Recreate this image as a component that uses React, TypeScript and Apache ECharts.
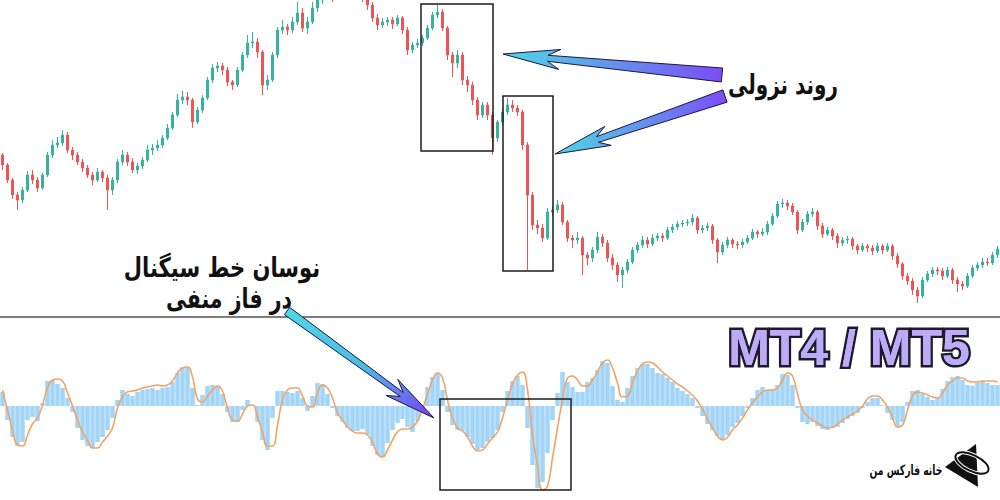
import React, { useEffect, useRef } from "react";
import * as echarts from "echarts";

// Price candles: [open, close, low, high] (arbitrary price units)
const candles: number[][] = [
  [165,155,150,167],[155,140,137,157],[140,125,121,142],[125,120,110,128],[120,130,117,133],[130,145,128,149],[145,140,136,150],[140,132,128,143],[132,145,130,147],[145,165,143,168],
  [165,175,162,180],[175,177,172,183],[177,185,174,190],[185,170,167,188],[170,165,160,173],[165,158,155,168],[158,152,148,161],[152,145,142,155],[145,140,135,148],[140,148,138,152],
  [148,142,138,150],[142,130,110,145],[130,140,125,143],[140,158,137,161],[158,165,155,170],[165,158,154,168],[158,150,147,162],[150,154,146,157],[154,160,151,163],[160,170,158,175],
  [170,172,165,176],[172,175,169,180],[175,182,172,185],[182,192,180,196],[192,205,190,208],[205,220,203,226],[220,223,216,229],[223,220,215,228],[220,198,192,222],[198,210,196,213],
  [210,222,207,225],[222,240,220,243],[240,252,237,256],[252,254,248,258],[254,250,245,257],[250,238,234,253],[238,235,230,240],[235,250,233,253],[250,265,248,268],[265,277,262,285],
  [277,278,272,288],[278,268,262,282],[268,235,225,270],[235,240,230,245],[240,265,238,268],[265,290,262,293],[290,293,286,300],[293,290,285,296],[290,298,287,303],[298,307,295,318],
  [307,292,288,312],[292,298,286,303],[298,312,296,318],[312,320,308,326],[320,325,316,330],[325,328,320,333],[328,323,318,331],[323,330,320,335],[330,332,326,336],[332,328,324,335],
  [328,325,320,331],[325,328,322,333],[328,322,318,331],[322,315,310,325],[315,302,298,318],[302,295,290,306],[295,298,292,302],[298,300,294,303],[300,296,291,303],[296,302,294,305],
  [302,290,286,304],[290,270,265,293],[270,275,267,278],[275,277,272,281],[277,282,274,285],[282,292,280,295],[292,305,290,308],[305,308,302,315],[308,292,289,311],[292,265,260,294],
  [265,257,243,268],[257,265,252,270],[265,240,235,268],[240,235,228,244],[235,220,215,238],[220,205,200,223],[205,215,202,218],[215,205,200,218],[205,182,165,208],[182,198,178,200],
  [198,208,195,212],[208,215,205,222],[215,212,208,220],[212,208,204,215],[208,175,170,210],[175,125,50,178],[125,95,90,128],[95,92,86,100],[92,82,78,96],[82,108,80,112],
  [108,110,104,114],[110,115,107,120],[115,98,95,118],[98,82,78,100],[82,80,72,85],[80,82,76,88],[82,65,45,84],[65,62,55,68],[62,70,58,73],[70,83,67,88],
  [83,77,73,86],[77,62,58,80],[62,55,50,66],[55,45,38,58],[45,50,32,53],[50,58,47,61],[58,70,56,73],[70,75,67,78],[75,80,72,84],[80,76,72,83],
  [76,82,74,86],[82,84,79,87],[84,82,78,87],[82,90,80,93],[90,93,87,96],[93,96,90,99],[96,97,93,100],[97,98,94,101],[98,102,95,106],[102,90,86,104],
  [90,92,87,95],[92,94,89,97],[94,80,76,96],[80,68,57,82],[68,75,65,78],[75,80,72,83],[80,76,72,82],[76,75,71,79],[75,78,72,81],[78,82,76,85],
  [82,88,80,91],[88,86,82,90],[86,88,84,92],[88,96,85,99],[96,104,94,107],[104,116,102,119],[116,117,112,121],[117,114,110,120],[114,108,105,117],[108,90,86,110],
  [90,98,88,101],[98,106,95,109],[106,108,103,112],[108,94,90,110],[94,86,82,97],[86,90,84,93],[90,84,80,92],[84,77,72,87],[77,80,74,83],[80,81,76,84],
  [81,74,70,83],[74,70,66,76],[70,74,68,77],[74,72,68,76],[72,69,65,75],[69,74,67,77],[74,70,66,76],[70,74,68,77],[74,64,60,76],[64,56,52,67],
  [56,44,40,58],[44,39,35,47],[39,30,25,42],[30,24,17,33],[24,40,22,43],[40,46,38,49],[46,50,43,53],[50,49,45,53],[49,44,40,52],[44,50,42,53],
  [50,40,36,52],[40,36,28,43],[36,34,30,39],[34,44,32,47],[44,52,42,55],[52,55,49,58],[55,58,52,62],[58,57,54,62],[57,65,55,68],[65,71,62,74],
];

// MACD histogram values
const macdHist: number[] = [
  14,-14,-31,-40,-36,-14,-11,-15,3,25,
  26,22,18,8,-6,-22,-34,-40,-42,-36,
  -31,-24,-12,6,16,12,10,14,16,17,
  18,16,18,19,24,33,39,38,18,1,
  11,20,21,20,12,-6,-16,-16,-4,6,
  1,-16,-34,-44,-12,15,15,14,13,15,
  8,-5,10,23,22,12,-2,-10,-16,-22,
  -25,-25,-23,-29,-40,-49,-51,-37,-24,-17,
  -13,-21,-26,-15,-2,19,29,32,16,-6,
  -19,-24,-25,-31,-38,-44,-42,-36,-32,-24,
  -6,15,25,30,21,-22,-59,-82,-76,-47,
  -14,13,34,24,19,14,14,24,28,36,
  45,43,20,6,4,18,30,38,42,42,
  38,33,32,28,24,18,15,12,8,-2,
  -10,-18,-24,-30,-34,-29,-21,-17,-10,-2,
  8,16,19,16,16,21,32,31,21,-2,
  -16,-18,-16,-20,-23,-24,-22,-21,-17,-13,
  -10,-7,-2,4,8,8,1,-7,-14,-21,
  -16,4,15,16,12,9,6,8,17,25,
  29,30,26,21,20,23,25,23,21,21,
];

// Signal line values
const signalLine: number[] = [
  16,-4,-24,-39,-40,-29,-18,-12,1,18,
  26,27,25,13,0,-14,-26,-34,-42,-42,
  -36,-30,-22,-2,9,14,15,16,18,19,
  20,21,20,21,25,33,38,39,29,7,
  4,10,16,20,15,-2,-14,-15,-8,0,
  1,-11,-26,-40,-40,-19,6,16,18,18,
  10,0,-1,13,21,18,8,-7,-14,-21,
  -25,-27,-27,-29,-36,-48,-51,-44,-34,-26,
  -23,-23,-21,-15,-3,12,26,33,28,6,
  -12,-22,-25,-31,-40,-45,-44,-38,-32,-26,
  -12,6,22,31,34,16,-29,-59,-84,-80,
  -52,-22,6,28,30,26,20,20,26,34,
  43,46,38,23,9,10,23,35,42,44,
  43,39,34,30,26,22,19,15,11,5,
  -3,-13,-22,-30,-34,-31,-24,-19,-12,-4,
  3,9,14,16,16,18,26,33,30,12,
  -4,-10,-14,-17,-20,-22,-21,-18,-14,-11,
  -8,-5,0,7,10,10,6,-1,-12,-21,
  -19,-4,10,14,13,11,9,8,13,21,
  25,28,28,25,24,24,25,25,25,24,
];

const categories: string[] = candles.map((_, i) => `B${i + 1}`);

const trendLabel = "روند نزولی";
const signalLabel1 = "نوسان خط سیگنال";
const signalLabel2 = "در فاز منفی";
const platformLabel = "MT4 / MT5";
const brandLabel = "خانه فارکس من";

type Pt = [number, number];
function arrowShape(tip: Pt, tail: Pt, tailHalf: number, joinDist: number, joinHalf: number, barbDist: number, barbHalf: number): Pt[] {
  const dx = tail[0] - tip[0];
  const dy = tail[1] - tip[1];
  const len = Math.hypot(dx, dy);
  const ux = dx / len, uy = dy / len;
  const px = -uy, py = ux;
  const at = (d: number, o: number): Pt => [tip[0] + ux * d + px * o, tip[1] + uy * d + py * o];
  return [tip, at(barbDist, barbHalf), at(joinDist, joinHalf), at(len, tailHalf), at(len, -tailHalf), at(joinDist, -joinHalf), at(barbDist, -barbHalf)];
}

const arrowFillH = { type: "linear", x: 0, y: 0, x2: 1, y2: 0, colorStops: [{ offset: 0, color: "#4fd8e4" }, { offset: 1, color: "#7b4cf6" }] };
const arrowFillD = { type: "linear", x: 0, y: 0, x2: 1, y2: 1, colorStops: [{ offset: 0, color: "#4fd8e4" }, { offset: 0.55, color: "#4fb8e8" }, { offset: 1, color: "#7b3cf6" }] };

export default function App() {
  const ref = useRef<HTMLDivElement>(null);
  useEffect(() => {
    if (!ref.current) return;
    const chart = echarts.init(ref.current, undefined, { renderer: "svg" });
    const arrowStroke = { stroke: "#1b1840", lineWidth: 1 };
    const faFont = 'bold 27px "DejaVu Sans"';
    chart.setOption({
      animation: false,
      backgroundColor: "#ffffff",
      grid: [
        { left: 0, right: 0, top: 0, height: 315 },
        { left: 0, right: 0, top: 320, height: 180 },
      ],
      xAxis: [
        { type: "category", data: categories, gridIndex: 0, show: false, boundaryGap: true },
        { type: "category", data: categories, gridIndex: 1, show: false, boundaryGap: true },
      ],
      yAxis: [
        { type: "value", gridIndex: 0, min: 5, max: 320, show: false, splitLine: { show: false } },
        { type: "value", gridIndex: 1, min: -94, max: 86, show: false, splitLine: { show: false } },
      ],
      series: [
        {
          type: "candlestick",
          xAxisIndex: 0,
          yAxisIndex: 0,
          data: candles,
          barWidth: 3,
          clip: true,
          itemStyle: {
            color: "#35b39f",
            color0: "#ef5454",
            borderColor: "#35b39f",
            borderColor0: "#ef5454",
            borderWidth: 1,
          },
        },
        {
          type: "bar",
          xAxisIndex: 1,
          yAxisIndex: 1,
          data: macdHist,
          barCategoryGap: "10%",
          itemStyle: { color: "#a2d5f7" },
        },
        {
          type: "line",
          xAxisIndex: 1,
          yAxisIndex: 1,
          data: signalLine,
          smooth: true,
          showSymbol: false,
          lineStyle: { color: "#f2a467", width: 1.6 },
        },
      ],
      graphic: [
        { type: "line", z: 100, shape: { x1: 0, y1: 317, x2: 1000, y2: 317 }, style: { stroke: "#7d7d7d", lineWidth: 2 } },
        { type: "rect", z: 100, shape: { x: 421, y: 4, width: 72, height: 147 }, style: { fill: "none", stroke: "#1c1c1c", lineWidth: 1.5 } },
        { type: "rect", z: 100, shape: { x: 503, y: 96, width: 50, height: 175 }, style: { fill: "none", stroke: "#1c1c1c", lineWidth: 1.5 } },
        { type: "rect", z: 100, shape: { x: 440, y: 399, width: 131, height: 91 }, style: { fill: "none", stroke: "#1c1c1c", lineWidth: 1.5 } },
        { type: "polygon", z: 101, shape: { points: arrowShape([503, 54], [722, 75], 7, 45, 3, 57, 10) }, style: { fill: arrowFillH, ...arrowStroke } },
        { type: "polygon", z: 101, shape: { points: arrowShape([555, 154], [725, 96], 6.5, 45, 3, 56, 10) }, style: { fill: arrowFillH, ...arrowStroke } },
        { type: "polygon", z: 101, shape: { points: arrowShape([434, 418], [287, 311], 4.5, 40, 2.5, 52, 10) }, style: { fill: arrowFillD, ...arrowStroke } },
        { type: "text", z: 102, x: 783, y: 85, scaleX: 0.74, style: { text: trendLabel, fill: "#111111", font: faFont, align: "center", verticalAlign: "middle" } },
        { type: "text", z: 102, x: 222, y: 268, scaleX: 0.78, style: { text: signalLabel1, fill: "#111111", font: faFont, align: "center", verticalAlign: "middle" } },
        { type: "text", z: 102, x: 229, y: 299, scaleX: 0.76, style: { text: signalLabel2, fill: "#111111", font: faFont, align: "center", verticalAlign: "middle" } },
        { type: "text", z: 102, x: 849, y: 348, style: { text: platformLabel, fill: "#bcacf8", stroke: "#1d1a2c", lineWidth: 5, font: 'bold 50px "Liberation Sans"', align: "center", verticalAlign: "middle" } },
        { type: "text", z: 103, x: 849, y: 348, style: { text: platformLabel, fill: "#bcacf8", font: 'bold 50px "Liberation Sans"', align: "center", verticalAlign: "middle" } },
        { type: "text", z: 102, x: 906, y: 470, scaleX: 0.66, style: { text: brandLabel, fill: "#111111", font: 'bold 14px "DejaVu Sans"', align: "center", verticalAlign: "middle" } },
        { type: "polygon", z: 102, shape: { points: [[976, 444], [945, 467], [978, 487]] }, style: { fill: "#111111" } },
        { type: "ellipse", z: 103, x: 972, y: 463, rotation: -0.45, shape: { cx: 0, cy: 0, rx: 18, ry: 8 }, style: { fill: "none", stroke: "#ffffff", lineWidth: 4 } },
        { type: "ellipse", z: 104, x: 972, y: 463, rotation: -0.45, shape: { cx: 0, cy: 0, rx: 18, ry: 8 }, style: { fill: "none", stroke: "#111111", lineWidth: 2 } },
      ],
    });
    return () => chart.dispose();
  }, []);
  return <div ref={ref} style={{ position: "absolute", left: 0, top: 0, width: 1000, height: 500 }} />;
}
